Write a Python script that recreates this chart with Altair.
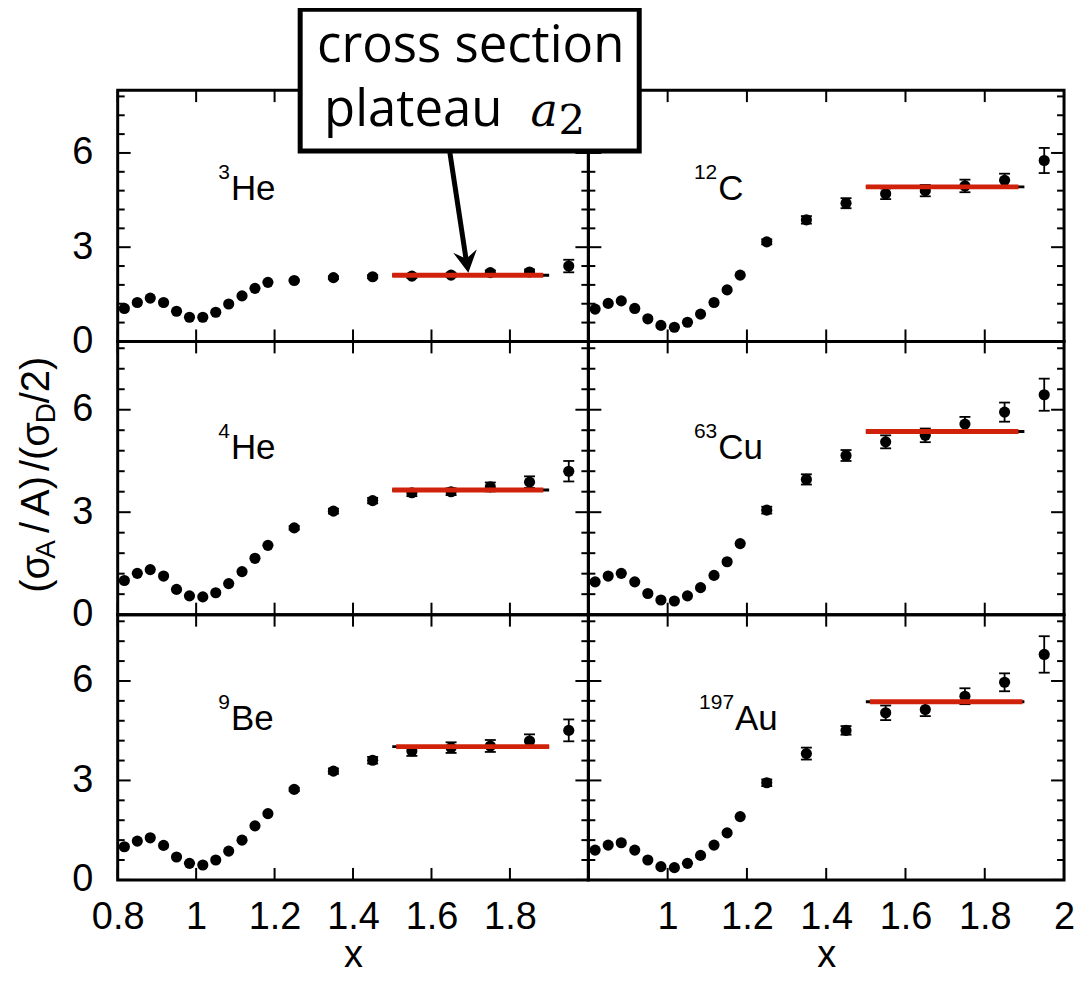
import altair as alt
import pandas as pd

# ---------------- data ----------------
X_VALS = [0.817, 0.850, 0.883, 0.917, 0.950, 0.983, 1.017, 1.050, 1.083, 1.117,
          1.150, 1.183, 1.25, 1.35, 1.45, 1.55, 1.65, 1.75, 1.85, 1.95]

MASS = ["3", "12", "4", "63", "9", "197"]
ELEM = ["He", "C", "He", "Cu", "Be", "Au"]

R_HE3 = [1.05, 1.24, 1.38, 1.24, 0.96, 0.77, 0.77, 0.93, 1.19, 1.45, 1.69, 1.88, 1.94, 2.03, 2.06, 2.08, 2.11, 2.19, 2.21, 2.40]
E_HE3 = [0, 0, 0, 0, 0, 0, 0, 0, 0, 0, 0, 0, 0.03, 0.04, 0.05, 0.06, 0.06, 0.07, 0.08, 0.20]

R_C12 = [1.03, 1.21, 1.29, 1.05, 0.72, 0.51, 0.45, 0.61, 0.87, 1.24, 1.64, 2.11, 3.17, 3.87, 4.40, 4.70, 4.80, 4.95, 5.13, 5.76]
E_C12 = [0, 0, 0, 0, 0, 0, 0, 0, 0, 0, 0, 0, 0.08, 0.12, 0.16, 0.17, 0.18, 0.20, 0.21, 0.40]

R_HE4 = [1.00, 1.21, 1.32, 1.13, 0.74, 0.55, 0.52, 0.64, 0.91, 1.26, 1.65, 2.03, 2.54, 3.03, 3.34, 3.57, 3.60, 3.74, 3.88, 4.20]
E_HE4 = [0, 0, 0, 0, 0, 0, 0, 0, 0, 0, 0, 0, 0.05, 0.07, 0.08, 0.10, 0.10, 0.13, 0.17, 0.30]

R_CU63 = [0.96, 1.13, 1.21, 0.96, 0.62, 0.43, 0.40, 0.55, 0.79, 1.15, 1.55, 2.08, 3.06, 3.96, 4.66, 5.06, 5.25, 5.58, 5.93, 6.44]
E_CU63 = [0, 0, 0, 0, 0, 0, 0, 0, 0, 0, 0, 0, 0.10, 0.15, 0.16, 0.19, 0.20, 0.21, 0.28, 0.47]

R_BE9 = [1.00, 1.17, 1.27, 1.04, 0.69, 0.50, 0.45, 0.60, 0.87, 1.20, 1.63, 2.00, 2.73, 3.28, 3.61, 3.89, 3.99, 4.04, 4.19, 4.51]
E_BE9 = [0, 0, 0, 0, 0, 0, 0, 0, 0, 0, 0, 0, 0.05, 0.08, 0.10, 0.15, 0.16, 0.18, 0.20, 0.33]

R_AU197 = [0.90, 1.05, 1.12, 0.90, 0.60, 0.40, 0.37, 0.50, 0.74, 1.05, 1.42, 1.91, 2.93, 3.81, 4.51, 5.04, 5.14, 5.54, 5.96, 6.80]
E_AU197 = [0, 0, 0, 0, 0, 0, 0, 0, 0, 0, 0, 0, 0.10, 0.18, 0.13, 0.22, 0.20, 0.24, 0.27, 0.55]

RATIOS = [R_HE3, R_C12, R_HE4, R_CU63, R_BE9, R_AU197]
ERRORS = [E_HE3, E_C12, E_HE4, E_CU63, E_BE9, E_AU197]

PLATEAU = [2.11, 4.92, 3.65, 5.36, 4.02, 5.37]
FIT_X0 = [1.50, 1.50, 1.50, 1.50, 1.50, 1.50]
FIT_X1 = [1.90, 1.90, 1.90, 1.90, 1.90, 1.90]
RED_X0 = [1.50, 1.50, 1.50, 1.50, 1.51, 1.51]
RED_X1 = [1.885, 1.885, 1.885, 1.885, 1.90, 1.895]

LABEL_X = [1.0886, 1.1276, 1.0886, 1.1276, 1.0886, 1.170]
LABEL_Y = [4.50, 4.50, 4.57, 4.57, 4.52, 4.52]

X_TICKS = [0.8, 1.0, 1.2, 1.4, 1.6, 1.8, 2.0]
X_LABELS_LEFT = [0.8, 1.0, 1.2, 1.4, 1.6, 1.8]
X_LABELS_RIGHT = [1.0, 1.2, 1.4, 1.6, 1.8, 2.0]
Y_MAJOR = [0, 3, 6]
Y_MINOR = [0.6, 1.2, 1.8, 2.4, 3.6, 4.2, 4.8, 5.4, 6.6, 7.2, 7.8]

RED = "#d0210a"
FONT = "Liberation Sans"

WIDTHS = [472, 477]
HEIGHTS = [252, 274, 266]


def panel(i, col, row):
    W = WIDTHS[col]
    H = HEIGHTS[row]
    left = col == 0
    bottom = row == 2
    xs = alt.Scale(domain=[0.8, 2.0], nice=False, zero=False)
    ys = alt.Scale(domain=[0, 8], nice=False, zero=False)
    if bottom:
        xaxis = alt.Axis(values=X_LABELS_LEFT if left else X_LABELS_RIGHT, format="~g",
                         title="x", ticks=False, tickSize=0, domain=False, grid=False,
                         labelPadding=19, labelFontSize=38, labelFont=FONT, labelColor="black",
                         titleFontSize=38, titleFont=FONT, titleFontWeight="normal",
                         titleColor="black", titlePadding=0,
                         labelFlush=False, labelOverlap=False, labelBound=False)
    else:
        xaxis = None
    if left:
        yaxis = alt.Axis(values=Y_MAJOR, title=None, ticks=False, tickSize=0, domain=False,
                         grid=False, labelPadding=25, labelFontSize=38, labelFont=FONT,
                         labelColor="black", labelFlush=False, labelOverlap=False,
                         labelBound=False)
    else:
        yaxis = None

    def X(f):
        return alt.X(f, type="quantitative", scale=xs, axis=xaxis)

    def Y(f):
        return alt.Y(f, type="quantitative", scale=ys, axis=yaxis)

    df = pd.DataFrame({"x": X_VALS, "y": RATIOS[i], "err": ERRORS[i]})
    df["lo"] = df["y"] - df["err"]
    df["hi"] = df["y"] + df["err"]
    dfe = df[df["err"] > 0]

    base = alt.Chart(df)
    errbase = alt.Chart(dfe)

    err_rule = errbase.mark_rule(color="black", strokeWidth=1.8).encode(
        x=X("x"), y=Y("lo"), y2=alt.Y2("hi"))
    cap_lo = errbase.mark_point(shape="stroke", size=121, color="black", strokeWidth=1.8,
                                filled=False, opacity=1).encode(x=X("x"), y=Y("lo"))
    cap_hi = errbase.mark_point(shape="stroke", size=121, color="black", strokeWidth=1.8,
                                filled=False, opacity=1).encode(x=X("x"), y=Y("hi"))
    pts = base.mark_circle(size=125, color="black", opacity=1).encode(x=X("x"), y=Y("y"))

    fit_df = pd.DataFrame({"x0": [FIT_X0[i]], "x1": [FIT_X1[i]], "rx0": [RED_X0[i]],
                           "rx1": [RED_X1[i]], "p": [PLATEAU[i]]})
    fit_black = alt.Chart(fit_df).mark_rule(color="black", strokeWidth=3).encode(
        x=X("x0"), x2=alt.X2("x1"), y=Y("p"))
    fit_red = alt.Chart(fit_df).mark_rule(color=RED, strokeWidth=5).encode(
        x=X("rx0"), x2=alt.X2("rx1"), y=Y("p"))

    lab_df = pd.DataFrame({"lx": [LABEL_X[i]], "ly": [LABEL_Y[i]],
                           "m": [MASS[i]], "e": [ELEM[i]]})
    lab_m = alt.Chart(lab_df).mark_text(align="right", baseline="alphabetic", fontSize=21,
                                        font=FONT, color="black", dy=-21, dx=-1).encode(
        x=X("lx"), y=Y("ly"), text="m:N")
    lab_e = alt.Chart(lab_df).mark_text(align="left", baseline="alphabetic", fontSize=35,
                                        font=FONT, color="black").encode(
        x=X("lx"), y=Y("ly"), text="e:N")

    ymaj = pd.DataFrame({"v": Y_MAJOR})
    ymin = pd.DataFrame({"v": Y_MINOR})
    xt = pd.DataFrame({"v": X_TICKS})
    tk = dict(color="black", strokeWidth=2)
    ticks = [
        alt.Chart(ymaj).mark_rule(**tk).encode(x=alt.value(0), x2=alt.value(13), y=Y("v")),
        alt.Chart(ymaj).mark_rule(**tk).encode(x=alt.value(W), x2=alt.value(W - 13), y=Y("v")),
        alt.Chart(ymin).mark_rule(**tk).encode(x=alt.value(0), x2=alt.value(7), y=Y("v")),
        alt.Chart(ymin).mark_rule(**tk).encode(x=alt.value(W), x2=alt.value(W - 7), y=Y("v")),
        alt.Chart(xt).mark_rule(**tk).encode(y=alt.value(H), y2=alt.value(H - 12), x=X("v")),
        alt.Chart(xt).mark_rule(**tk).encode(y=alt.value(0), y2=alt.value(12), x=X("v")),
    ]

    layers = ticks + [err_rule, cap_lo, cap_hi, pts, fit_black, fit_red, lab_m, lab_e]

    one = alt.Chart(pd.DataFrame({"k": [0]}))

    if i == 0:
        # arrow pointing to the plateau
        arr_df = pd.DataFrame({"x0": [1.647], "y0": [6.0], "x1": [1.689], "y1": [2.55],
                               "tx": [1.694], "ty": [2.19]})
        arrow_line = alt.Chart(arr_df).mark_rule(color="black", strokeWidth=5).encode(
            x=X("x0"), y=Y("y0"), x2=alt.X2("x1"), y2=alt.Y2("y1"))
        arrow_head = alt.Chart(arr_df).mark_point(
            shape="M0,0L-0.6,-1.1L0,-0.7L0.6,-1.1Z", size=1600, filled=True,
            color="black", opacity=1, angle=351.3).encode(x=X("tx"), y=Y("ty"))
        layers += [arrow_line, arrow_head]

    if i == 2:
        # y-axis title with subscripts, rotated (pixel offsets from this panel's corner)
        pieces = [("(σ", -69, 252, 40), ("A", -63, 218, 28), ("/", -69, 192, 40),
                  ("A)", -69, 175, 40), ("/(σ", -69, 130, 40), ("D", -63, 82, 28),
                  ("/2)", -69, 62, 40)]
        for t, px, py, fs in pieces:
            layers.append(one.mark_text(text=t, angle=270, align="left", baseline="alphabetic",
                                        fontSize=fs, font=FONT, color="black").encode(
                x=alt.value(px), y=alt.value(py)))

    if i == 1:
        # annotation box (outer black, inner white -> 5px frame)
        frame = one.mark_rect(fill="black", strokeWidth=0).encode(
            x=alt.value(-291.5), x2=alt.value(53.5), y=alt.value(-83.5), y2=alt.value(63.5))
        inner = one.mark_rect(fill="white", strokeWidth=0).encode(
            x=alt.value(-286.5), x2=alt.value(48.5), y=alt.value(-78.5), y2=alt.value(58.5))
        t1 = one.mark_text(text="cross section", align="center", baseline="alphabetic",
                           fontSize=51, font="Open Sans", color="black").encode(
            x=alt.value(-118), y=alt.value(-28))
        t2 = one.mark_text(text="plateau", align="left", baseline="alphabetic",
                           fontSize=51, font="Open Sans", color="black").encode(
            x=alt.value(-265), y=alt.value(36))
        t3 = one.mark_text(text="a", align="left", baseline="alphabetic", fontSize=46,
                           font="DejaVu Serif", fontStyle="italic", color="black").encode(
            x=alt.value(-58), y=alt.value(36))
        t4 = one.mark_text(text="2", align="left", baseline="alphabetic", fontSize=42,
                           font="DejaVu Serif", color="black").encode(
            x=alt.value(-30), y=alt.value(44))
        layers += [frame, inner, t1, t2, t3, t4]

    return alt.layer(*layers).properties(width=W, height=H)


cells = []
idx = 0
for r in range(3):
    for c in range(2):
        cells.append(panel(idx, c, r))
        idx += 1

chart = alt.concat(*cells, columns=2, spacing=0, bounds="flush").resolve_scale(
    x="independent", y="independent"
).properties(
    padding={"left": 7, "top": -4, "right": 0, "bottom": 0},
    background="white",
).configure_view(
    stroke="black", strokeWidth=3
)

chart.save("out.html", embed_options={"renderer": "svg", "actions": False})
